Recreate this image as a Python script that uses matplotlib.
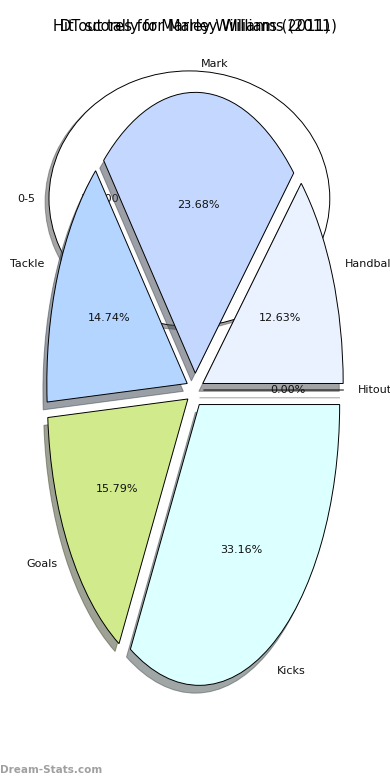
import matplotlib
matplotlib.use("Agg")
import matplotlib.pyplot as plt

# Hit out tally (top pie)
hitout_bins = ["0-5"]
hitout_games = [1]

# DT score breakdown (main pie)
dt_categories = ["Hitout", "Handball", "Mark", "Tackle", "Goals", "Kicks"]
dt_points = [0, 24, 45, 28, 30, 63]
dt_colors = ["#d9d9d9", "#eaf1ff", "#c4d8ff", "#b4d5ff", "#d0ea8c", "#dcffff"]

title_hitouts = "Hit out tally for Marley Williams (2011)"
title_dt = "DT scores for Marley Williams (2011)"
watermark = "Dream-Stats.com"

fig = plt.figure(figsize=(3.9, 7.8), dpi=100)

ax1 = fig.add_axes([0.05, 0.5409, 0.9, 0.4091])
ax1.pie(hitout_games, labels=hitout_bins, colors=["white"],
        explode=[0.04] * len(hitout_games), autopct="%1.2f%%",
        shadow=True, startangle=0,
        wedgeprops={"edgecolor": "black", "linewidth": 0.7},
        textprops={"fontsize": 8, "color": "#111111"})
ax1.set_aspect("auto")
ax1.set_title(title_hitouts, fontsize=10.5)

ax2 = fig.add_axes([0.05, 0.05, 0.9, 0.9])
ax2.pie(dt_points, labels=dt_categories, colors=dt_colors,
        explode=[0.06] * len(dt_points), autopct="%1.2f%%",
        shadow=True, startangle=0,
        wedgeprops={"edgecolor": "black", "linewidth": 0.7},
        textprops={"fontsize": 8, "color": "#111111"})
ax2.set_aspect("auto")
ax2.set_title(title_dt, fontsize=10.5)

fig.text(0.0, 0.0128, watermark, fontsize=7.5, fontweight="bold",
         color="#a0a0a0", ha="left", va="center")

fig.savefig("out.png", dpi=100)
